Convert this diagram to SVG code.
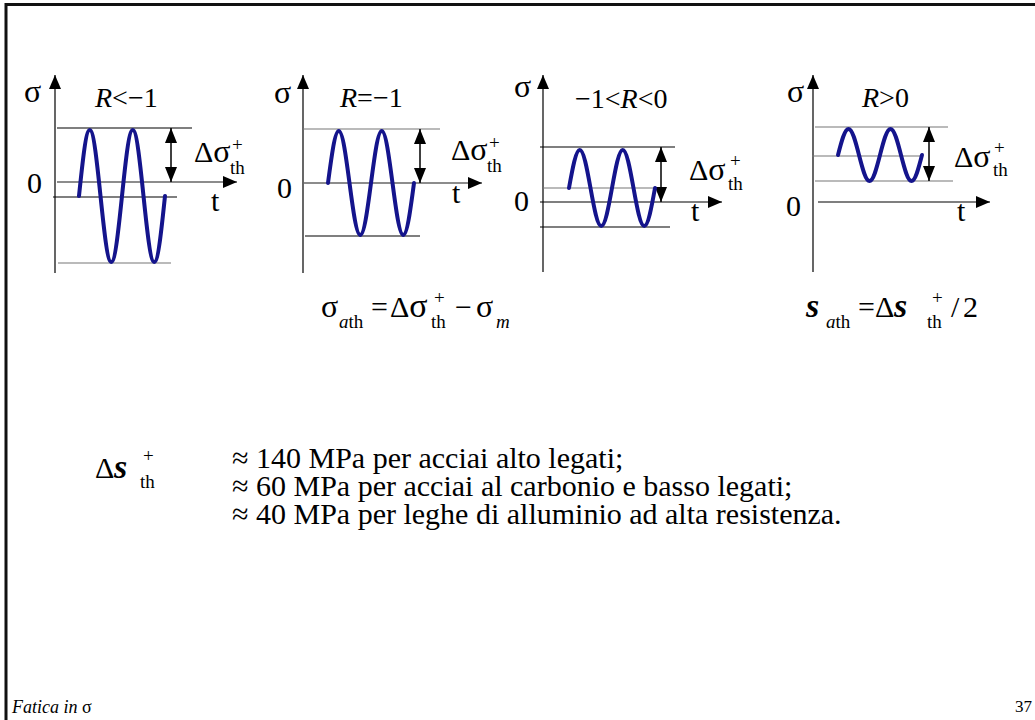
<svg xmlns="http://www.w3.org/2000/svg" width="1035" height="720" viewBox="0 0 1035 720">
<style>
text{font-family:"Liberation Serif","Times New Roman",serif;fill:#000}
.t{font-size:28px}
.n{font-size:30px}
.g{font-size:32px}
.s{font-size:19px}
.i{font-style:italic}
.b{font-weight:bold;font-style:italic}
.ln{stroke:#000;stroke-width:1.2;fill:none}
.lg{stroke:#777;stroke-width:1.2;fill:none}
.ax{stroke:#000;stroke-width:1.2;fill:none;marker-end:url(#ah)}
.axg{stroke:#666;stroke-width:1.5;fill:none;marker-end:url(#ah)}
.da{stroke:#000;stroke-width:1.5;fill:none;marker-start:url(#ah2);marker-end:url(#ah2)}
.w{stroke:#14148c;stroke-width:4;fill:none;stroke-linecap:round}
.fr{stroke:#111;stroke-width:3;fill:none}
</style>
<defs>
<marker id="ah" markerUnits="userSpaceOnUse" markerWidth="14" markerHeight="12" viewBox="0 0 14 12" refX="14" refY="6" orient="auto"><path d="M0,0 L14,6 L0,12 z" fill="#000"/></marker>
<marker id="ah2" markerUnits="userSpaceOnUse" markerWidth="15" markerHeight="12" viewBox="0 0 15 12" refX="15" refY="6" orient="auto-start-reverse"><path d="M0,0 L15,6 L0,12 z" fill="#000"/></marker>
</defs>
<rect width="1035" height="720" fill="#fff"/>
<path class="fr" d="M6,720 V4.5 H1035"/>

<g id="panel1">
<line class="ax" x1="55" y1="273" x2="55" y2="75"/>
<line class="ln" x1="57" y1="128" x2="192" y2="128"/>
<line class="axg" x1="57" y1="182" x2="237" y2="182"/>
<line class="ln" x1="53" y1="197" x2="177" y2="197"/>
<line class="lg" x1="58" y1="263" x2="171" y2="263"/>
<line class="da" x1="171" y1="128" x2="171" y2="182"/>
<path class="w" d="M79,196 C82.5,162.2 85.86,130 89.75,130 S97,162.2 100.5,196 S107.36,262 111.25,262 S118.5,229.8 122,196 S128.86,130 132.75,130 S140,162.2 143.5,196 S150.36,262 154.25,262 S161.5,229.8 165,196"/>
<text class="g" x="24" y="102">σ</text>
<text class="t" x="95" y="107"><tspan class="i">R</tspan>&lt;−1</text>
<text class="n" x="27" y="193">0</text>
<text class="n" x="211" y="211">t</text>
<text class="n" x="194" y="162">Δ<tspan class="g">σ</tspan></text>
<text class="s" x="232" y="151">+</text>
<text class="s" x="230" y="174">th</text>
</g>

<g id="panel2">
<line class="ax" x1="303" y1="273" x2="303" y2="75"/>
<line class="lg" x1="303" y1="129" x2="440" y2="129"/>
<line class="axg" x1="302" y1="183" x2="482" y2="183"/>
<line class="ln" x1="305" y1="236" x2="420" y2="236"/>
<line class="da" x1="420" y1="129" x2="420" y2="183"/>
<path class="w" d="M328,183 C331.5,156.4 334.86,131 338.75,131 S346,156.4 349.5,183 S356.36,235 360.25,235 S367.5,209.6 371,183 S377.86,131 381.75,131 S389,156.4 392.5,183 S399.36,235 403.25,235 S410.5,209.6 414,183"/>
<text class="g" x="274" y="103">σ</text>
<text class="t" x="340" y="107"><tspan class="i">R</tspan>=−1</text>
<text class="n" x="277" y="198">0</text>
<text class="n" x="452" y="203">t</text>
<text class="n" x="451" y="160">Δ<tspan class="g">σ</tspan></text>
<text class="s" x="489" y="149">+</text>
<text class="s" x="487" y="172">th</text>
</g>

<g id="panel3">
<line class="ax" x1="543" y1="272" x2="543" y2="75"/>
<line class="ln" x1="540" y1="147" x2="675" y2="147"/>
<line class="lg" x1="543" y1="188" x2="655" y2="188"/>
<line class="ax" x1="540" y1="202" x2="722" y2="202"/>
<line class="ln" x1="540" y1="227" x2="670" y2="227"/>
<line class="da" x1="661" y1="147" x2="661" y2="202"/>
<path class="w" d="M569,188 C572.5,168.5 575.86,150 579.75,150 S587,168.5 590.5,188 S597.36,226 601.25,226 S608.5,207.5 612,188 S618.86,150 622.75,150 S630,168.5 633.5,188 S640.36,226 644.25,226 S651.5,207.5 655,188"/>
<text class="g" x="514" y="97">σ</text>
<text class="t" x="575" y="108">−1&lt;<tspan class="i">R</tspan>&lt;0</text>
<text class="n" x="514" y="211">0</text>
<text class="n" x="691" y="221">t</text>
<text class="n" x="689" y="180">Δ<tspan class="g">σ</tspan></text>
<text class="s" x="730" y="167">+</text>
<text class="s" x="728" y="190">th</text>
</g>

<g id="panel4">
<line class="ax" x1="813" y1="272" x2="813" y2="75"/>
<line class="lg" x1="815" y1="127" x2="948" y2="127"/>
<line class="lg" x1="812" y1="156" x2="923" y2="156"/>
<line class="lg" x1="815" y1="181" x2="953" y2="181"/>
<line class="ax" x1="818" y1="202" x2="990" y2="202"/>
<line class="da" x1="929" y1="127" x2="929" y2="181"/>
<path class="w" d="M838,155 C841.42,141.7 844.7,129 848.5,129 S855.58,141.7 859,155 S865.7,181 869.5,181 S876.58,168.3 880,155 S886.7,129 890.5,129 S897.58,141.7 901,155 S907.7,181 911.5,181 S918.58,168.3 922,155"/>
<text class="g" x="787" y="102">σ</text>
<text class="t" x="862" y="107"><tspan class="i">R</tspan>&gt;0</text>
<text class="n" x="786" y="216">0</text>
<text class="n" x="957" y="221">t</text>
<text class="n" x="954" y="167">Δ<tspan class="g">σ</tspan></text>
<text class="s" x="994" y="154">+</text>
<text class="s" x="993" y="176">th</text>
</g>

<g id="formula1">
<text class="g" x="321" y="317">σ</text>
<text class="s" x="339" y="328"><tspan class="i">a</tspan>th</text>
<text class="n" x="371" y="317">=</text>
<text class="n" x="390" y="317">Δ<tspan style="font-size:34px">σ</tspan></text>
<text class="s" x="434" y="304">+</text>
<text class="s" x="431" y="328">th</text>
<text class="n" x="455" y="317">−</text>
<text class="g" x="476" y="317">σ</text>
<text class="s i" x="496" y="328">m</text>
</g>

<g id="formula2">
<text class="b" x="806" y="317" style="font-size:34px">s</text>
<text class="s" x="826" y="328"><tspan class="i">a</tspan>th</text>
<text class="n" x="858" y="317">=</text>
<text class="n" x="875" y="317">Δ</text>
<text class="b" x="894" y="317" style="font-size:34px">s</text>
<text class="s" x="932" y="304">+</text>
<text class="s" x="927" y="328">th</text>
<text class="n" x="951" y="317">/</text>
<text class="n" x="963" y="317">2</text>
</g>

<g id="values">
<text class="n" x="95" y="478">Δ</text>
<text class="b" x="114" y="478" style="font-size:34px">s</text>
<text class="s" x="143" y="462">+</text>
<text class="s" x="140" y="488">th</text>
<text class="n"><tspan x="232" y="468">≈ 140 MPa per acciai alto legati;</tspan><tspan x="232" y="496">≈ 60 MPa per acciai al carbonio e basso legati;</tspan><tspan x="232" y="524">≈ 40 MPa per leghe di alluminio ad alta resistenza.</tspan></text>
</g>

<g id="footer">
<text x="12" y="713" style="font-size:18px"><tspan class="i">Fatica in </tspan>σ</text>
<text x="1032" y="712" style="font-size:17px" text-anchor="end">37</text>
</g>
</svg>
